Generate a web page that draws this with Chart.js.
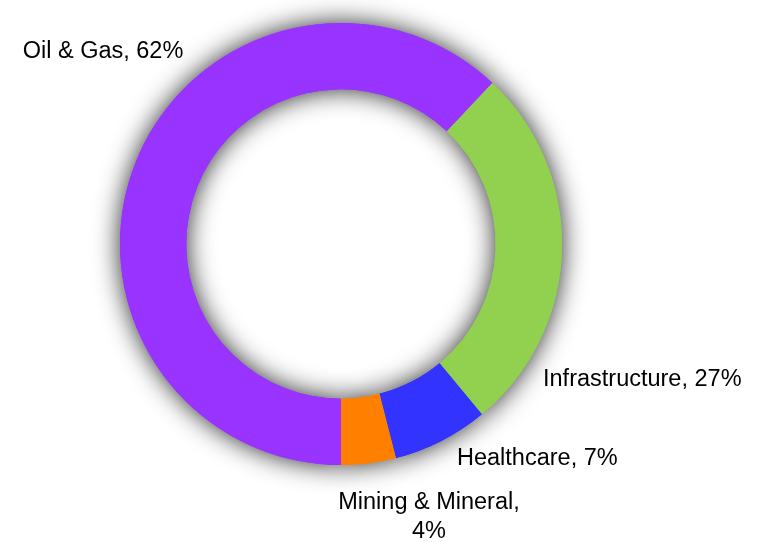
<!DOCTYPE html>
<html>
<head>
<meta charset="utf-8">
<script src="https://cdn.jsdelivr.net/npm/chart.js@4"></script>
<style>
  html, body { margin: 0; padding: 0; background: #fff; }
  #wrap { width: 766px; height: 542px; position: relative; }
</style>
</head>
<body>
<div id="wrap"><canvas id="chart"></canvas></div>
<script>
// 데이터
const sectors = ['Oil & Gas', 'Infrastructure', 'Healthcare', 'Mining & Mineral'];
const shares = [62, 27, 7, 4];
const sectorColors = ['#9933FF', '#92D050', '#3333FF', '#FF8000'];

// 라벨 위치 (차트 중심 기준 오프셋), 정렬
const labelLines = [
    ['Oil & Gas, 62%'],
    ['Infrastructure, 27%'],
    ['Healthcare, 7%'],
    ['Mining & Mineral,', '4%']
];
const labelOffsets = [[-238, -192], [202, 136], [116, 215], [88, 259]];
const labelAligns = ['center', 'left', 'left', 'center'];

// 링 그림자: 조각마다 그림자를 먼저 그리고 위에 조각을 다시 그림
const ringShadow = {
    id: 'ringShadow',
    beforeDatasetsDraw(chart) {
        const ctx = chart.ctx;
        const arcs = chart.getDatasetMeta(0).data;
        ctx.save();
        ctx.shadowColor = 'rgba(40,40,40,1)';
        ctx.shadowBlur = 26;
        ctx.shadowOffsetX = 0;
        ctx.shadowOffsetY = 0;
        arcs.forEach(arc => arc.draw(ctx));
        ctx.restore();
    }
};

// 바깥 라벨
const outerLabels = {
    id: 'outerLabels',
    afterDatasetsDraw(chart) {
        const ctx = chart.ctx;
        const arc = chart.getDatasetMeta(0).data[0];
        const cx = arc.x, cy = arc.y;
        ctx.save();
        ctx.fillStyle = '#000';
        ctx.font = '23.5px "Liberation Sans", Arial, sans-serif';
        ctx.textBaseline = 'middle';
        labelLines.forEach((lines, i) => {
            ctx.textAlign = labelAligns[i];
            lines.forEach((line, j) => {
                ctx.fillText(line, cx + labelOffsets[i][0], cy + labelOffsets[i][1] + j * 29);
            });
        });
        ctx.restore();
    }
};

new Chart(document.getElementById('chart'), {
    type: 'doughnut',
    data: {
        labels: sectors,
        datasets: [{
            data: shares,
            backgroundColor: sectorColors,
            borderWidth: 0
        }]
    },
    options: {
        responsive: true,
        maintainAspectRatio: false,
        animation: false,
        rotation: 180,
        cutout: '70%',
        layout: { padding: { left: 120, right: 204, top: 23, bottom: 77 } },
        plugins: {
            legend: { display: false },
            tooltip: { enabled: false }
        }
    },
    plugins: [ringShadow, outerLabels]
});
</script>
</body>
</html>
